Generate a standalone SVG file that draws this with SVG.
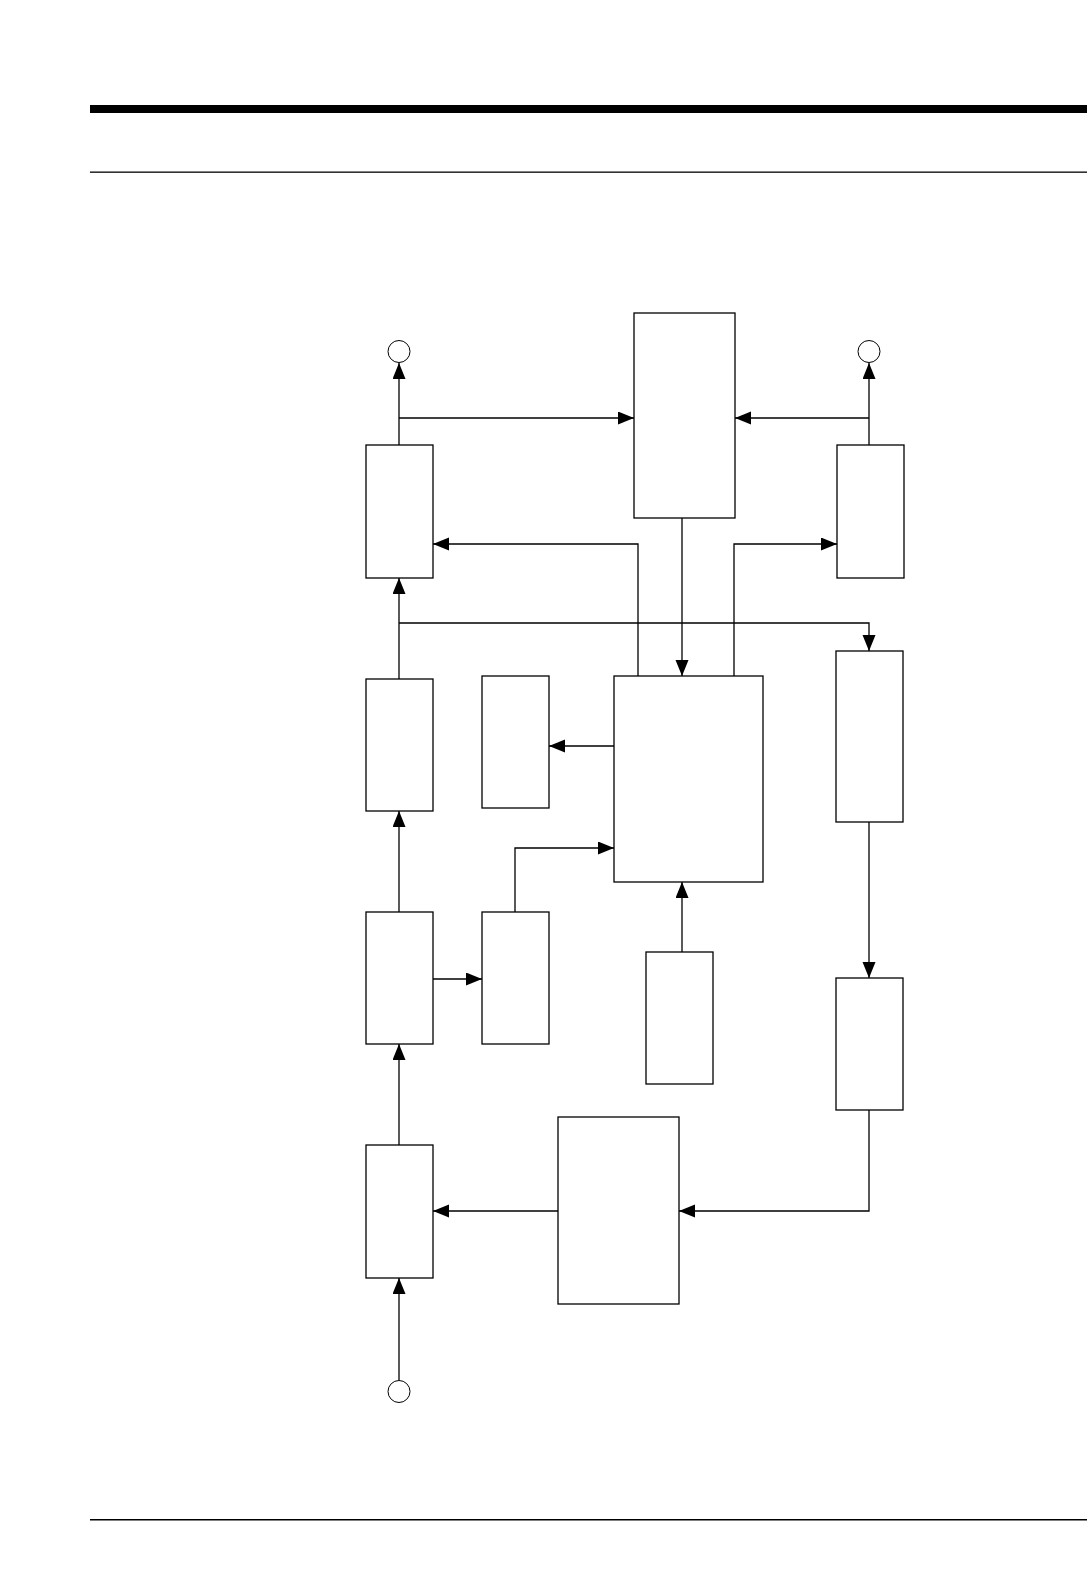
<svg xmlns="http://www.w3.org/2000/svg" width="1087" height="1569" viewBox="0 0 1087 1569">
<style>
.box{fill:#fff;stroke:#000;stroke-width:1.3}
.term{fill:#fff;stroke:#000;stroke-width:1}
.wire{fill:none;stroke:#000;stroke-width:1.3}
.arr{marker-end:url(#ah)}
</style>
<defs>
<marker id="ah" markerUnits="userSpaceOnUse" markerWidth="16" markerHeight="14" refX="16" refY="6.5" orient="auto">
<path d="M0,0 L16,6.5 L0,13 z" fill="#000"/>
</marker>
</defs>
<rect width="1087" height="1569" fill="#fff"/>
<g id="page-rules">
<rect x="90" y="105" width="997" height="8" fill="#000"/>
<rect x="90" y="171.5" width="997" height="1.3" fill="#000"/>
<rect x="90" y="1519" width="997" height="1.5" fill="#000"/>
</g>
<g id="connectors">
<path class="wire arr" d="M399,445 V363"/>
<path class="wire arr" d="M399,418 H634"/>
<path class="wire arr" d="M869,445 V363"/>
<path class="wire arr" d="M869,418 H735"/>
<path class="wire arr" d="M682,518 V676"/>
<path class="wire arr" d="M638,676 V544 H433"/>
<path class="wire arr" d="M734,676 V544 H837"/>
<path class="wire arr" d="M399,679 V578"/>
<path class="wire arr" d="M399,623 H869 V651"/>
<path class="wire arr" d="M614,746 H549"/>
<path class="wire arr" d="M515,912 V848 H614"/>
<path class="wire arr" d="M682,952 V882"/>
<path class="wire arr" d="M399,912 V811"/>
<path class="wire arr" d="M433,979 H482"/>
<path class="wire arr" d="M869,822 V978"/>
<path class="wire arr" d="M869,1110 V1211 H679"/>
<path class="wire arr" d="M558,1211 H433"/>
<path class="wire arr" d="M399,1145 V1044"/>
<path class="wire arr" d="M399,1380 V1278"/>
</g>
<g id="nodeA"><rect class="box" x="366" y="445" width="67" height="133"/></g>
<g id="nodeB"><rect class="box" x="634" y="313" width="101" height="205"/></g>
<g id="nodeC"><rect class="box" x="837" y="445" width="67" height="133"/></g>
<g id="nodeD"><rect class="box" x="366" y="679" width="67" height="132"/></g>
<g id="nodeE"><rect class="box" x="482" y="676" width="67" height="132"/></g>
<g id="nodeF"><rect class="box" x="614" y="676" width="149" height="206"/></g>
<g id="nodeG"><rect class="box" x="836" y="651" width="67" height="171"/></g>
<g id="nodeH"><rect class="box" x="366" y="912" width="67" height="132"/></g>
<g id="nodeI"><rect class="box" x="482" y="912" width="67" height="132"/></g>
<g id="nodeJ"><rect class="box" x="646" y="952" width="67" height="132"/></g>
<g id="nodeK"><rect class="box" x="836" y="978" width="67" height="132"/></g>
<g id="nodeL"><rect class="box" x="558" y="1117" width="121" height="187"/></g>
<g id="nodeM"><rect class="box" x="366" y="1145" width="67" height="133"/></g>
<g id="term1"><circle class="term" cx="399" cy="351.5" r="11"/></g>
<g id="term2"><circle class="term" cx="869" cy="351.5" r="11"/></g>
<g id="term3"><circle class="term" cx="399" cy="1391.5" r="11"/></g>
</svg>
